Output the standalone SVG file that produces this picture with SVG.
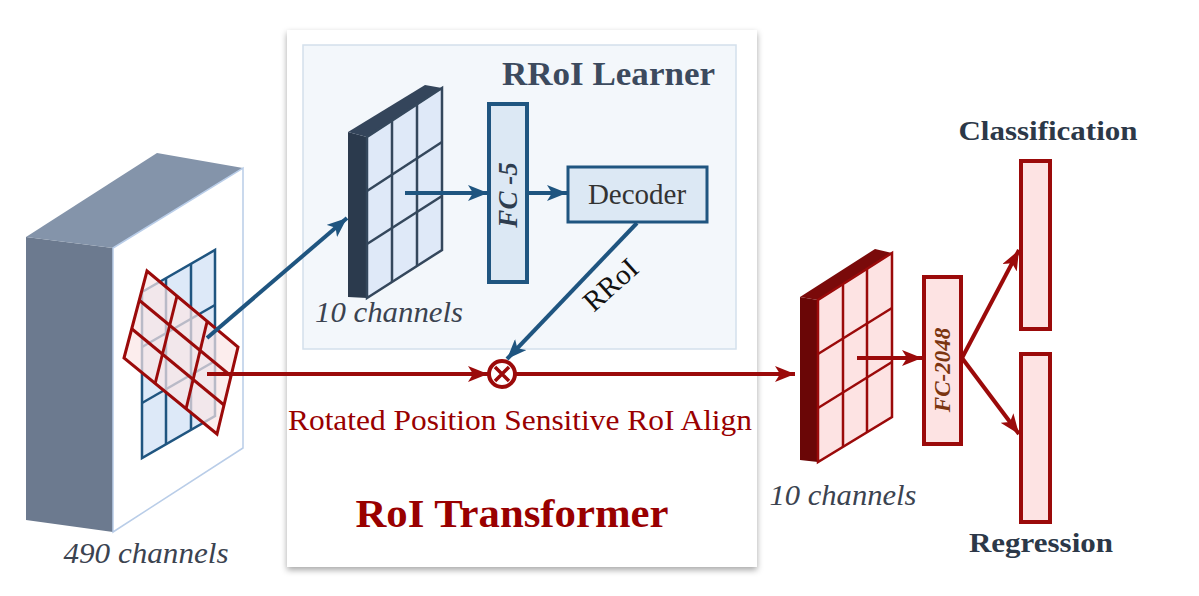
<svg xmlns="http://www.w3.org/2000/svg" width="1199" height="596" viewBox="0 0 1199 596">
<style>
  .serif{font-family:"Liberation Serif","Times New Roman",serif}
  .blue{stroke:#1f5580;fill:none;stroke-width:4}
  .red{stroke:#9b0a0a;fill:none;stroke-width:4}
  .head{font-weight:bold;fill:#2c3848}
</style>
<defs>
  <marker id="ab" markerUnits="userSpaceOnUse" markerWidth="22" markerHeight="16" refX="20" refY="8" orient="auto">
    <path d="M0,0 L20,8 L0,16 L5,8 Z" fill="#1f5580"/>
  </marker>
  <marker id="ar" markerUnits="userSpaceOnUse" markerWidth="22" markerHeight="16" refX="20" refY="8" orient="auto">
    <path d="M0,0 L20,8 L0,16 L5,8 Z" fill="#9b0a0a"/>
  </marker>
  <filter id="sh" x="-5%" y="-5%" width="110%" height="110%">
    <feDropShadow dx="0" dy="3" stdDeviation="3" flood-color="#000" flood-opacity="0.35"/>
  </filter>
</defs>
<rect width="1199" height="596" fill="#fff"/>

<g id="panel">
  <rect x="287" y="30" width="470" height="537" fill="#fff" filter="url(#sh)"/>
  <text class="serif" x="512" y="527" text-anchor="middle" font-size="41" font-weight="bold" fill="#990000" textLength="313" lengthAdjust="spacingAndGlyphs">RoI Transformer</text>
</g>

<g id="learner">
  <rect x="303" y="45" width="433" height="304" fill="#f3f7fb" stroke="#d3e0ec" stroke-width="1.5"/>
  <text class="serif" x="715" y="85" text-anchor="end" font-size="33" font-weight="bold" fill="#3c4a5e" textLength="213" lengthAdjust="spacingAndGlyphs">RRoI Learner</text>
</g>

<g id="input-block">
  <polygon points="26,237 113,248 113,532 26,520" fill="#6c7a8f"/>
  <polygon points="26,237 157,153 243,168 113,248" fill="#8494aa"/>
  <polygon points="113,248 243,168 243,448 113,532" fill="#fff" stroke="#b9cde8" stroke-width="1.5"/>
  <polygon points="142,292 215,250 215,416 142,458" fill="#dde9f8" stroke="#1f5580" stroke-width="2.5"/>
  <g stroke="#1f5580" stroke-width="2.5">
    <line x1="166" y1="278" x2="166" y2="444"/>
    <line x1="191" y1="264" x2="191" y2="430"/>
    <line x1="142" y1="347" x2="215" y2="305"/>
    <line x1="142" y1="403" x2="215" y2="361"/>
  </g>
  <polygon points="147,271 238,347 217,434 124,358" fill="#fbe6e6" fill-opacity="0.7" stroke="#9b0a0a" stroke-width="3"/>
  <g stroke="#9b0a0a" stroke-width="3">
    <line x1="139" y1="300" x2="231" y2="376"/>
    <line x1="132" y1="329" x2="224" y2="405"/>
    <line x1="177" y1="296" x2="155" y2="384"/>
    <line x1="207" y1="322" x2="186" y2="409"/>
  </g>
  <text x="146" y="563" text-anchor="middle" font-family="'Liberation Serif', 'Times New Roman', serif" font-style="italic" font-size="30" fill="#3b4350" textLength="165" lengthAdjust="spacingAndGlyphs">490 channels</text>
</g>

<g id="learner-block">
  <polygon points="348,132 367,137 367,298 348,297" fill="#2b3a4d"/>
  <polygon points="348,132 425,85 442,88 367,137" fill="#34455b"/>
  <polygon points="367,137 442,88 442,250 367,298" fill="#dfe9f8" stroke="#34475c" stroke-width="2.5"/>
  <g stroke="#34475c" stroke-width="2.5">
    <line x1="392" y1="121" x2="392" y2="282"/>
    <line x1="417" y1="104" x2="417" y2="266"/>
    <line x1="367" y1="191" x2="442" y2="142"/>
    <line x1="367" y1="244" x2="442" y2="196"/>
  </g>
  <text x="389" y="322" text-anchor="middle" font-family="'Liberation Serif', 'Times New Roman', serif" font-style="italic" font-size="29" fill="#3b4350" textLength="148" lengthAdjust="spacingAndGlyphs">10 channels</text>
</g>

<g id="fc5">
  <rect x="489" y="104" width="38" height="178" fill="#dce8f4" stroke="#1f5580" stroke-width="4"/>
  <text class="serif" transform="translate(517,195) rotate(-90)" text-anchor="middle" font-size="27" font-style="italic" font-weight="bold" fill="#2e3d4f">FC -5</text>
</g>

<g id="decoder">
  <rect x="568" y="167" width="139" height="55" fill="#dce8f4" stroke="#1f5580" stroke-width="3"/>
  <text class="serif" x="637" y="204" text-anchor="middle" font-size="29" fill="#333">Decoder</text>
</g>

<g id="psroi">
  <circle cx="502" cy="374" r="13" fill="#fff" stroke="#9b0a0a" stroke-width="4"/>
  <path d="M495,367 L509,381 M509,367 L495,381" stroke="#9b0a0a" stroke-width="3.5"/>
  <text class="serif" x="520" y="430" text-anchor="middle" font-size="30" fill="#990000" textLength="464" lengthAdjust="spacingAndGlyphs">Rotated Position Sensitive RoI Align</text>
</g>

<g id="output-block">
  <polygon points="800,297 818,300 818,462 800,460" fill="#6a0606"/>
  <polygon points="800,297 875,249 892,253 818,300" fill="#7a0a0a"/>
  <polygon points="818,300 892,253 892,417 818,462" fill="#fde3e3" stroke="#9b0a0a" stroke-width="2.5"/>
  <g stroke="#9b0a0a" stroke-width="2.5">
    <line x1="843" y1="285" x2="843" y2="447"/>
    <line x1="867" y1="269" x2="867" y2="432"/>
    <line x1="818" y1="354" x2="892" y2="308"/>
    <line x1="818" y1="408" x2="892" y2="362"/>
  </g>
  <text x="843" y="505" text-anchor="middle" font-family="'Liberation Serif', 'Times New Roman', serif" font-style="italic" font-size="29" fill="#3b4350" textLength="147" lengthAdjust="spacingAndGlyphs">10 channels</text>
</g>

<g id="fc2048">
  <rect x="924" y="277" width="37" height="167" fill="#fde3e3" stroke="#9b0a0a" stroke-width="4"/>
  <text class="serif" transform="translate(950,370) rotate(-90)" text-anchor="middle" font-size="23" font-style="italic" font-weight="bold" fill="#7b3510">FC-2048</text>
</g>

<g id="classification">
  <rect x="1021" y="161" width="29" height="168" fill="#fde3e3" stroke="#9b0a0a" stroke-width="4"/>
  <text class="serif head" x="1048" y="140" text-anchor="middle" font-size="28" textLength="179" lengthAdjust="spacingAndGlyphs">Classification</text>
</g>

<g id="regression">
  <rect x="1021" y="354" width="29" height="168" fill="#fde3e3" stroke="#9b0a0a" stroke-width="4"/>
  <text class="serif head" x="1041" y="552" text-anchor="middle" font-size="28" textLength="144" lengthAdjust="spacingAndGlyphs">Regression</text>
</g>

<g id="connectors">
  <line class="blue" x1="207" y1="338" x2="347" y2="218" marker-end="url(#ab)"/>
  <line class="red" x1="207" y1="374" x2="488" y2="374" marker-end="url(#ar)"/>
  <line class="red" x1="516" y1="374" x2="795" y2="374" marker-end="url(#ar)"/>
  <line class="blue" x1="405" y1="193" x2="488" y2="193" marker-end="url(#ab)"/>
  <line class="blue" x1="528" y1="193" x2="567" y2="193" marker-end="url(#ab)"/>
  <line class="blue" x1="637" y1="223" x2="507" y2="359" marker-end="url(#ab)"/>
  <line class="red" x1="857" y1="358" x2="922" y2="358" marker-end="url(#ar)"/>
  <line class="red" x1="962" y1="358" x2="1019" y2="250" marker-end="url(#ar)"/>
  <line class="red" x1="962" y1="358" x2="1019" y2="434" marker-end="url(#ar)"/>
  <text class="serif" transform="translate(617,292) rotate(-42)" text-anchor="middle" font-size="29" fill="#111">RRoI</text>
</g>
</svg>
